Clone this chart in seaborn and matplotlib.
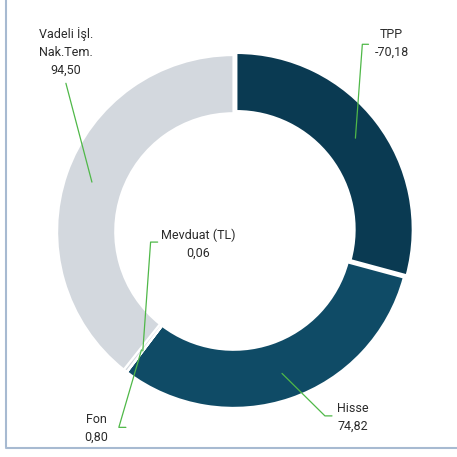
import numpy as np
import matplotlib.pyplot as plt
import seaborn as sns
from matplotlib.lines import Line2D

sns.set_style("white")
plt.rcParams['font.family'] = ['Roboto', 'DejaVu Sans']

# data (clockwise from top)
labels = ['TPP', 'Hisse', 'Mevduat (TL)', 'Fon', 'Vadeli İşl.\nNak.Tem.']
values = [-70.18, 74.82, 0.06, 0.80, 94.50]
value_text = ['-70,18', '74,82', '0,06', '0,80', '94,50']
colors = ['#0a3a52', '#0f4b66', '#d3d8de', '#d3d8de', '#d3d8de']
explode = [0.02, 0, 0, 0, 0]

sizes = np.abs(values)

fig = plt.figure(figsize=(4.57, 4.57), dpi=100)
ax = fig.add_axes([0, 0, 1, 1])

wedges, _ = ax.pie(sizes, colors=colors, startangle=90, counterclock=False,
                   explode=explode,
                   wedgeprops=dict(width=0.33, edgecolor='white', linewidth=1.6))

ax.set_xlim(-1.323, 1.266)
ax.set_ylim(-1.278, 1.312)
ax.set_aspect('equal')
ax.axis('off')

# label placement (text position, elbow point, line start)
label_pos = {
    'TPP': ((0.895, 1.067), (0.765, 1.061), (0.73, 1.061)),
    'Hisse': ((0.675, -1.054), (0.558, -1.045), (0.518, -1.045)),
    'Mevduat (TL)': ((-0.2, -0.07), (-0.43, -0.06), (-0.47, -0.06)),
    'Fon': ((-0.776, -1.115), (-0.61, -1.11), (-0.65, -1.11)),
    'Vadeli İşl.\nNak.Tem.': ((-0.95, 1.02), None, (-0.95, 0.84)),
}

line_col = '#4fb848'
for w, lab, vt in zip(wedges, labels, value_text):
    ang = np.deg2rad((w.theta1 + w.theta2) / 2)
    cx, cy = w.center
    r = 0.85
    end = (cx + r * np.cos(ang), cy + r * np.sin(ang))
    tpos, knee, start = label_pos[lab]
    pts = [p for p in (knee, start) if p is not None] + [end]
    xs, ys = zip(*pts)
    ax.add_line(Line2D(xs, ys, color=line_col, lw=0.9))
    ax.text(tpos[0], tpos[1], f'{lab}\n{vt}', ha='center', va='center',
            fontsize=9, color='#2b2b2b', linespacing=1.5)

# frame lines (left and bottom)
fig.add_artist(Line2D([5.5 / 457, 5.5 / 457], [1, 1 - 447 / 457],
                      transform=fig.transFigure, color='#a7bad1', lw=1.5))
fig.add_artist(Line2D([5.5 / 457, 1], [1 - 447.5 / 457, 1 - 447.5 / 457],
                      transform=fig.transFigure, color='#a7bad1', lw=1.5))

fig.savefig('out.png', dpi=100)
